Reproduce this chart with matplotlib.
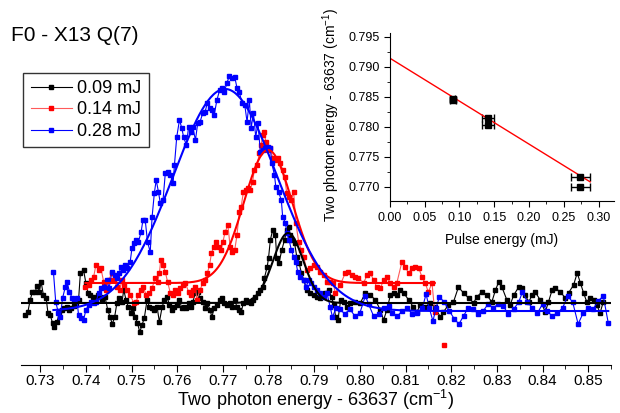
import numpy as np
import matplotlib.pyplot as plt
from matplotlib.ticker import MultipleLocator

plt.rcParams['font.family'] = ['Liberation Sans', 'DejaVu Sans']

# ---- main spectra: two photon energy - 63637 (cm-1) vs signal (arb. units) ----
black_x = [0.7267, 0.7273, 0.7278, 0.7283, 0.7289, 0.7293, 0.7298, 0.7302, 0.7307, 0.7313,
           0.7317, 0.7322, 0.7327, 0.7331, 0.7337, 0.7342, 0.7348, 0.7353, 0.7359, 0.7362,
           0.7368, 0.7373, 0.7378, 0.7384, 0.7388, 0.7395, 0.7400, 0.7405, 0.7410, 0.7415,
           0.7421, 0.7427, 0.7431, 0.7436, 0.7442, 0.7448, 0.7453, 0.7458, 0.7463, 0.7468,
           0.7473, 0.7479, 0.7483, 0.7488, 0.7493, 0.7499, 0.7504, 0.7508, 0.7513, 0.7518,
           0.7523, 0.7528, 0.7534, 0.7539, 0.7545, 0.7550, 0.7556, 0.7561, 0.7567, 0.7572,
           0.7578, 0.7583, 0.7589, 0.7594, 0.7599, 0.7605, 0.7610, 0.7615, 0.7620, 0.7625,
           0.7630, 0.7634, 0.7640, 0.7645, 0.7650, 0.7656, 0.7661, 0.7666, 0.7672, 0.7676,
           0.7681, 0.7687, 0.7693, 0.7698, 0.7703, 0.7709, 0.7716, 0.7721, 0.7726, 0.7731,
           0.7736, 0.7740, 0.7745, 0.7750, 0.7756, 0.7762, 0.7767, 0.7771, 0.7777, 0.7782,
           0.7787, 0.7791, 0.7797, 0.7800, 0.7804, 0.7809, 0.7815, 0.7818, 0.7823, 0.7829,
           0.7835, 0.7840, 0.7844, 0.7847, 0.7851, 0.7857, 0.7862, 0.7867, 0.7872, 0.7877,
           0.7884, 0.7891, 0.7899, 0.7906, 0.7913, 0.7923, 0.7932, 0.7938, 0.7943, 0.7947,
           0.7952, 0.7958, 0.7965, 0.7972, 0.7979, 0.7990, 0.8001, 0.8012, 0.8023, 0.8034,
           0.8045, 0.8052, 0.8059, 0.8067, 0.8074, 0.8081, 0.8088, 0.8096, 0.8107, 0.8117,
           0.8125, 0.8132, 0.8143, 0.8154, 0.8165, 0.8176, 0.8183, 0.8194, 0.8205, 0.8216,
           0.8227, 0.8238, 0.8249, 0.8256, 0.8267, 0.8278, 0.8289, 0.8297, 0.8304, 0.8311,
           0.8322, 0.8329, 0.8337, 0.8348, 0.8355, 0.8362, 0.8370, 0.8377, 0.8384, 0.8395,
           0.8406, 0.8413, 0.8421, 0.8428, 0.8439, 0.8450, 0.8457, 0.8468, 0.8476, 0.8483,
           0.8490, 0.8497, 0.8505, 0.8512, 0.8519, 0.8526, 0.8533]
black_y = [50, 53, 65, 73, 73, 79, 73, 83, 70, 67,
           52, 50, 42, 38, 43, 53, 55, 57, 58, 55,
           57, 59, 61, 65, 92, 95, 82, 72, 70, 68,
           67, 70, 68, 65, 68, 55, 48, 41, 48, 62,
           67, 63, 75, 65, 58, 52, 57, 48, 42, 33,
           40, 47, 65, 58, 57, 55, 58, 43, 58, 65,
           68, 60, 55, 58, 60, 65, 57, 58, 57, 62,
           58, 63, 72, 73, 67, 63, 57, 62, 55, 48,
           57, 60, 65, 67, 62, 60, 62, 58, 65, 58,
           55, 53, 62, 65, 63, 62, 65, 68, 72, 75,
           78, 87, 98, 107, 125, 135, 130, 107, 102, 115,
           125, 135, 138, 130, 125, 122, 108, 102, 92, 85,
           75, 72, 70, 68, 67, 72, 75, 68, 60, 48,
           45, 65, 63, 58, 62, 63, 62, 72, 70, 65,
           55, 45, 55, 70, 72, 70, 75, 72, 65, 58,
           53, 60, 58, 62, 58, 48, 53, 60, 63, 78,
           72, 67, 62, 68, 73, 70, 63, 75, 83, 78,
           65, 60, 70, 78, 77, 70, 63, 70, 73, 65,
           53, 63, 75, 77, 73, 67, 72, 80, 92, 82,
           72, 63, 67, 65, 60, 52, 63]

red_x = [0.7399, 0.7406, 0.7412, 0.7417, 0.7422, 0.7428, 0.7433, 0.7439, 0.7445, 0.7450,
         0.7457, 0.7462, 0.7468, 0.7474, 0.7479, 0.7484, 0.7490, 0.7497, 0.7505, 0.7510,
         0.7515, 0.7521, 0.7526, 0.7532, 0.7539, 0.7545, 0.7552, 0.7557, 0.7561, 0.7564,
         0.7569, 0.7574, 0.7579, 0.7585, 0.7591, 0.7596, 0.7601, 0.7607, 0.7613, 0.7618,
         0.7625, 0.7630, 0.7634, 0.7640, 0.7643, 0.7650, 0.7656, 0.7661, 0.7666, 0.7671,
         0.7675, 0.7680, 0.7686, 0.7691, 0.7696, 0.7700, 0.7705, 0.7711, 0.7716, 0.7721,
         0.7726, 0.7731, 0.7736, 0.7740, 0.7745, 0.7750, 0.7755, 0.7760, 0.7765, 0.7769,
         0.7775, 0.7780, 0.7784, 0.7787, 0.7791, 0.7794, 0.7799, 0.7804, 0.7809, 0.7815,
         0.7821, 0.7826, 0.7831, 0.7835, 0.7840, 0.7845, 0.7850, 0.7855, 0.7860, 0.7866,
         0.7872, 0.7877, 0.7884, 0.7891, 0.7899, 0.7906, 0.7913, 0.7921, 0.7928, 0.7935,
         0.7942, 0.7946, 0.7957, 0.7968, 0.7975, 0.7983, 0.7990, 0.7997, 0.8008, 0.8016,
         0.8023, 0.8030, 0.8037, 0.8045, 0.8052, 0.8059, 0.8067, 0.8074, 0.8081, 0.8092,
         0.8099, 0.8107, 0.8114, 0.8121, 0.8129, 0.8136, 0.8143, 0.8150, 0.8158, 0.8164]
red_y = [78, 80, 85, 88, 100, 95, 97, 83, 75, 85,
         92, 85, 78, 75, 85, 80, 75, 70, 62, 63,
         70, 75, 78, 70, 72, 77, 87, 83, 92, 105,
         100, 93, 83, 72, 70, 75, 72, 77, 80, 82,
         73, 70, 75, 78, 65, 75, 82, 85, 92, 100,
         112, 118, 123, 118, 115, 123, 133, 140, 118, 113,
         115, 130, 153, 158, 173, 175, 177, 175, 183, 195,
         200, 212, 220, 230, 233, 223, 215, 217, 207, 205,
         207, 202, 195, 188, 172, 168, 165, 173, 142, 123,
         115, 108, 95, 97, 100, 98, 93, 90, 83, 83,
         82, 72, 80, 92, 93, 90, 88, 87, 82, 90,
         92, 85, 78, 77, 85, 88, 82, 78, 82, 103,
         98, 92, 97, 98, 97, 88, 82, 73, 82, 53]
red_outlier_x = [0.8184]
red_outlier_y = [20]

blue_x = [0.7329, 0.7334, 0.7340, 0.7344, 0.7349, 0.7355, 0.7359, 0.7364, 0.7370, 0.7375,
          0.7380, 0.7384, 0.7390, 0.7395, 0.7400, 0.7406, 0.7412, 0.7417, 0.7422, 0.7428,
          0.7433, 0.7439, 0.7446, 0.7451, 0.7457, 0.7463, 0.7468, 0.7473, 0.7477, 0.7481,
          0.7486, 0.7491, 0.7497, 0.7501, 0.7506, 0.7510, 0.7515, 0.7521, 0.7525, 0.7530,
          0.7535, 0.7541, 0.7545, 0.7550, 0.7554, 0.7559, 0.7563, 0.7569, 0.7574, 0.7579,
          0.7585, 0.7591, 0.7594, 0.7599, 0.7605, 0.7610, 0.7614, 0.7620, 0.7625, 0.7630,
          0.7634, 0.7640, 0.7645, 0.7650, 0.7656, 0.7661, 0.7666, 0.7671, 0.7676, 0.7681,
          0.7687, 0.7693, 0.7698, 0.7703, 0.7709, 0.7714, 0.7720, 0.7726, 0.7731, 0.7736,
          0.7742, 0.7748, 0.7753, 0.7758, 0.7762, 0.7767, 0.7772, 0.7777, 0.7782, 0.7787,
          0.7793, 0.7799, 0.7804, 0.7807, 0.7813, 0.7816, 0.7822, 0.7828, 0.7831, 0.7837,
          0.7840, 0.7845, 0.7850, 0.7855, 0.7860, 0.7864, 0.7869, 0.7877, 0.7882, 0.7888,
          0.7893, 0.7899, 0.7906, 0.7913, 0.7921, 0.7928, 0.7935, 0.7940, 0.7948, 0.7956,
          0.7967, 0.7978, 0.7989, 0.8000, 0.8012, 0.8019, 0.8030, 0.8041, 0.8052, 0.8063,
          0.8071, 0.8082, 0.8093, 0.8104, 0.8115, 0.8126, 0.8137, 0.8145, 0.8152, 0.8160,
          0.8167, 0.8174, 0.8185, 0.8196, 0.8207, 0.8217, 0.8227, 0.8237, 0.8248, 0.8259,
          0.8270, 0.8281, 0.8292, 0.8303, 0.8314, 0.8325, 0.8337, 0.8348, 0.8356, 0.8367,
          0.8378, 0.8389, 0.8400, 0.8410, 0.8421, 0.8432, 0.8444, 0.8455, 0.8466, 0.8478,
          0.8489, 0.8500, 0.8511, 0.8522, 0.8533, 0.8544]
blue_y = [93, 63, 52, 48, 67, 78, 83, 73, 67, 65,
          67, 50, 47, 45, 55, 60, 63, 62, 63, 72,
          77, 78, 85, 77, 93, 90, 87, 92, 98, 95,
          100, 97, 103, 117, 122, 125, 123, 133, 145, 145,
          123, 113, 148, 172, 185, 173, 162, 165, 192, 193,
          190, 182, 200, 228, 245, 237, 228, 220, 238, 233,
          238, 225, 242, 243, 252, 253, 262, 257, 255, 250,
          265, 275, 277, 273, 282, 289, 287, 288, 277, 273,
          262, 260, 243, 265, 237, 252, 228, 242, 213, 215,
          217, 218, 217, 202, 190, 178, 173, 165, 148, 142,
          132, 125, 115, 108, 103, 93, 88, 85, 78, 85,
          82, 78, 75, 72, 68, 72, 58, 48, 57, 56,
          51, 56, 49, 52, 69, 61, 49, 51, 57, 59,
          52, 49, 54, 57, 51, 52, 57, 71, 57, 44,
          57, 68, 63, 54, 46, 41, 49, 57, 56, 51,
          54, 61, 57, 61, 59, 51, 56, 63, 73, 63,
          57, 52, 61, 54, 49, 52, 57, 69, 63, 41,
          52, 57, 56, 64, 69, 42]

series_labels = ['0.09 mJ', '0.14 mJ', '0.28 mJ']
series_colors = ['black', 'red', 'blue']
line_colors = ['black', '#ff5a5a', 'blue']

# gaussian fit parameters: baseline, amplitude, centre, width
black_fit = (62, 70, 0.7843, 0.0033)
red_fit = (82, 133, 0.7799, 0.0053)
blue_fit = (54, 222, 0.7705, 0.0114)

# ---- inset: peak position vs pulse energy ----
pulse_energy = [0.090, 0.091, 0.141, 0.141, 0.274, 0.274]
pulse_err = [0.004, 0.004, 0.008, 0.008, 0.014, 0.014]
peak_position = [0.7846, 0.7845, 0.7814, 0.7803, 0.7716, 0.7700]
line_intercept = 0.7914
line_slope = -0.0715
line_end = 0.288


def gauss(x, p):
    base, amp, c, s = p
    return base + amp * np.exp(-(x - c) ** 2 / (2 * s ** 2))


fig = plt.figure(figsize=(6.2, 4.13), dpi=100)
ax = fig.add_axes([0.0339, 0.1162, 0.9516, 0.7337])

datasets = [(black_x, black_y), (red_x, red_y), (blue_x, blue_y)]
fits = [black_fit, red_fit, blue_fit]
handles = []
for (xs, ys), col, lcol, lab in zip(datasets, series_colors, line_colors, series_labels):
    h, = ax.plot(xs, ys, '-s', color=lcol, mfc=col, mec=col, lw=0.8, ms=3.3, label=lab)
    handles.append(h)
ax.plot(red_outlier_x, red_outlier_y, 's', color='red', ms=3.3)

fit_ranges = [(0.7258, 0.855), (red_x[0], red_x[-1]), (blue_x[0], blue_x[-1])]
for p, col, (a, b) in zip(fits, series_colors, fit_ranges):
    xx = np.linspace(a, b, 400)
    ax.plot(xx, gauss(xx, p), color=col, lw=1.5)

ax.set_xlim(0.7258, 0.855)
ax.set_ylim(0, 303)
for s in ['left', 'top', 'right']:
    ax.spines[s].set_visible(False)
ax.set_yticks([])
ax.xaxis.set_major_locator(MultipleLocator(0.01))
ax.xaxis.set_minor_locator(MultipleLocator(0.005))
ax.tick_params(axis='x', which='major', direction='out', length=5, labelsize=11, pad=1.5)
ax.tick_params(axis='x', which='minor', direction='out', length=3)
ax.xaxis.set_major_formatter(plt.FormatStrFormatter('%.2f'))
ax.set_xlabel('Two photon energy - 63637 (cm$^{\\mathregular{-1}}$)', fontsize=13, labelpad=0)

fig.text(0.018, 0.915, 'F0 - X13 Q(7)', fontsize=15, va='center', ha='left')

leg = fig.legend(handles=handles, loc='upper left', bbox_to_anchor=(0.0376, 0.824),
                 fontsize=13, frameon=True, fancybox=False, edgecolor='black',
                 handlelength=2.3, handletextpad=0.3, labelspacing=0.25,
                 borderpad=0.4, borderaxespad=0, markerscale=0.7)
leg.get_frame().set_linewidth(1.0)

# inset
ax2 = fig.add_axes([0.629, 0.513, 0.361, 0.407])
ax2.errorbar(pulse_energy, peak_position, xerr=pulse_err, fmt='s', color='black',
             ms=5, capsize=3, elinewidth=1, capthick=1)
lx = np.array([0.0, line_end])
ax2.plot(lx, line_intercept + line_slope * lx, color='red', lw=1)
ax2.set_xlim(0, 0.322)
ax2.set_ylim(0.7676, 0.7956)
for s in ['top', 'right']:
    ax2.spines[s].set_visible(False)
ax2.xaxis.set_major_locator(MultipleLocator(0.05))
ax2.xaxis.set_minor_locator(MultipleLocator(0.025))
ax2.yaxis.set_major_locator(MultipleLocator(0.005))
ax2.yaxis.set_minor_locator(MultipleLocator(0.0025))
ax2.xaxis.set_major_formatter(plt.FormatStrFormatter('%.2f'))
ax2.yaxis.set_major_formatter(plt.FormatStrFormatter('%.3f'))
ax2.tick_params(which='major', direction='out', length=4, labelsize=9)
ax2.tick_params(which='minor', direction='out', length=2)
ax2.set_xlabel('Pulse energy (mJ)', fontsize=10, labelpad=7)
ax2.set_ylabel('Two photon energy - 63637 (cm$^{\\mathregular{-1}}$)', fontsize=10)
ax2.yaxis.set_label_coords(-0.214, 0.51)

fig.savefig('out.png', dpi=100)
